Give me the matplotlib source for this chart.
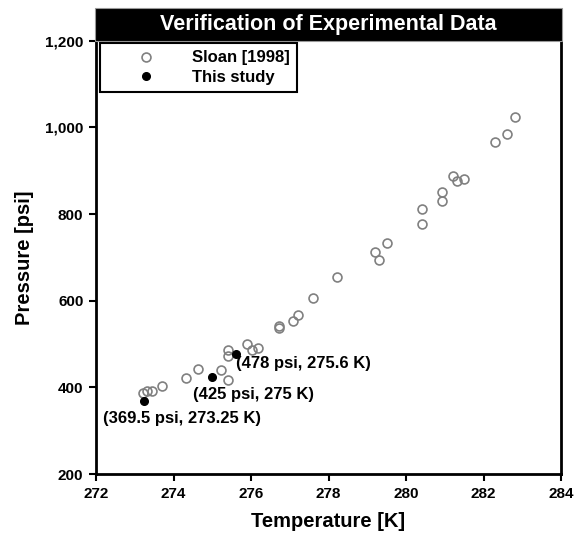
import matplotlib
matplotlib.use("Agg")
import matplotlib.pyplot as plt
from matplotlib.patches import Rectangle
from matplotlib.ticker import FuncFormatter

plt.rcParams['font.family'] = ['Liberation Sans', 'DejaVu Sans']
plt.rcParams['font.weight'] = 'bold'

# Sloan [1998] data (temperature K, pressure psi)
sloan_T = [273.22, 273.32, 273.44, 273.71, 274.32, 274.62, 275.22, 275.40,
           275.41, 275.41, 275.90, 276.02, 276.19, 276.71, 276.73, 277.09,
           277.22, 277.61, 278.21, 279.20, 279.30, 279.52, 280.41, 280.41,
           280.92, 280.92, 281.21, 281.31, 281.50, 282.30, 282.61, 282.80]
sloan_P = [386, 391, 391, 403, 421, 443, 440, 418,
           486, 472, 499, 487, 491, 541, 536, 554,
           568, 606, 655, 713, 694, 734, 778, 811,
           830, 851, 888, 877, 881, 967, 985, 1024]

# This study
study_T = [273.25, 275.0, 275.6]
study_P = [369.5, 425, 478]
study_labels = ["(369.5 psi, 273.25 K)", "(425 psi, 275 K)", "(478 psi, 275.6 K)"]

x_ticks = [272, 274, 276, 278, 280, 282, 284]
y_ticks = [200, 400, 600, 800, 1000, 1200]

fig = plt.figure(figsize=(5.86, 5.40), dpi=100)
ax = fig.add_axes([96/586, 1-474/540, 465/586, 433.3/540])

ax.plot(sloan_T, sloan_P, linestyle='none', marker='o', markersize=6.4,
        markerfacecolor='none', markeredgecolor='#808080', markeredgewidth=1.2,
        label='Sloan [1998]')
ax.plot(study_T, study_P, linestyle='none', marker='o', markersize=5.5,
        markerfacecolor='black', markeredgecolor='black', label='This study')

# annotations (text offset from the point, in points)
offsets = [(-29.5, -13), (-13.7, -12.7), (0, -7.5)]
for t, p, lab, off in zip(study_T, study_P, study_labels, offsets):
    ax.annotate(lab, xy=(t, p), xytext=off, textcoords='offset points',
                fontsize=12, fontweight='bold', ha='left', va='center')

ax.set_xlim(272, 284)
ax.set_ylim(200, 1200)
ax.set_xticks(x_ticks)
ax.set_yticks(y_ticks)
ax.yaxis.set_major_formatter(FuncFormatter(lambda v, p: f"{int(v):,}"))
ax.tick_params(direction='out', length=5, width=1.5, labelsize=11, pad=4)
for lab in ax.get_xticklabels() + ax.get_yticklabels():
    lab.set_fontweight('bold')
for s in ['left', 'bottom', 'right']:
    ax.spines[s].set_linewidth(2)
ax.spines['top'].set_visible(False)

ax.set_xlabel('Temperature [K]', fontsize=14.5, fontweight='bold', labelpad=8)
ax.set_ylabel('Pressure [psi]', fontsize=14.5, fontweight='bold', labelpad=8)

# title bar
ax.add_patch(Rectangle((-0.003, 1.0), 1.006, 0.075, transform=ax.transAxes,
                       facecolor='black', edgecolor='#999999', linewidth=0.8,
                       clip_on=False, zorder=5))
ax.text(0.5, 1.038, 'Verification of Experimental Data', transform=ax.transAxes,
        color='white', fontsize=15.5, fontweight='bold', ha='center', va='center',
        zorder=6)

leg = ax.legend(loc='upper left', bbox_to_anchor=(0.009, 0.995), borderaxespad=0,
                fontsize=12, handlelength=4.6, handletextpad=0.46,
                labelspacing=0.25, borderpad=0.45, fancybox=False,
                framealpha=1, edgecolor='black')
leg.get_frame().set_linewidth(1.5)
for t in leg.get_texts():
    t.set_fontweight('bold')

fig.savefig('out.png', dpi=100)
